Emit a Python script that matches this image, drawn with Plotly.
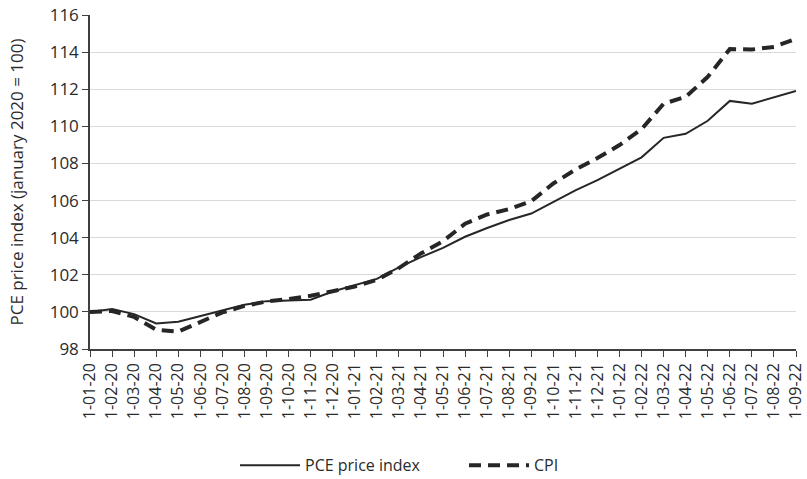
import plotly.graph_objects as go

months = ["1-01-20", "1-02-20", "1-03-20", "1-04-20", "1-05-20", "1-06-20", "1-07-20", "1-08-20",
          "1-09-20", "1-10-20", "1-11-20", "1-12-20", "1-01-21", "1-02-21", "1-03-21", "1-04-21",
          "1-05-21", "1-06-21", "1-07-21", "1-08-21", "1-09-21", "1-10-21", "1-11-21", "1-12-21",
          "1-01-22", "1-02-22", "1-03-22", "1-04-22", "1-05-22", "1-06-22", "1-07-22", "1-08-22",
          "1-09-22"]

pce = [100.0, 100.15, 99.88, 99.38, 99.47, 99.78, 100.1, 100.38, 100.58, 100.62, 100.66, 101.1,
       101.42, 101.78, 102.4, 102.95, 103.45, 104.05, 104.52, 104.95, 105.3, 105.92, 106.55, 107.1,
       107.7, 108.33, 109.38, 109.6, 110.3, 111.37, 111.22, 111.54, 111.9]

cpi = [100.0, 100.05, 99.73, 99.04, 98.94, 99.46, 99.97, 100.32, 100.56, 100.69, 100.87, 101.11,
       101.37, 101.73, 102.36, 103.15, 103.81, 104.75, 105.25, 105.54, 105.97, 106.92, 107.67, 108.29,
       108.99, 109.85, 111.22, 111.59, 112.67, 114.16, 114.14, 114.28, 114.72]

FONT = "Open Sans"
ink = "#262626"
txt = "#2b2b2b"

fig = go.Figure()
fig.add_trace(go.Scatter(x=months, y=pce, mode="lines", name="PCE price index",
                         line=dict(color=ink, width=2)))
fig.add_trace(go.Scatter(x=months, y=cpi, mode="lines", name="CPI",
                         line=dict(color=ink, width=4, dash="12px,7px")))

fig.update_layout(
    width=807, height=479,
    margin=dict(l=90, r=11, t=15, b=130, autoexpand=False),
    paper_bgcolor="white", plot_bgcolor="white",
    font=dict(family=FONT, size=17, color=txt),
    showlegend=True,
    legend=dict(orientation="h", x=0.2054, xanchor="left",
                y=-0.348, yanchor="middle",
                font=dict(family=FONT, size=16, color=txt), itemwidth=60,
                entrywidth=154, entrywidthmode="pixels",
                traceorder="normal"),
    xaxis=dict(type="category", range=[0, 32], tickangle=-90, automargin=False,
               showgrid=False, showline=True, linecolor="#404040", linewidth=1.5,
               ticks="outside", ticklen=6, tickcolor="#404040",
               tickfont=dict(family=FONT, size=16, color=txt),
               zeroline=False),
    yaxis=dict(range=[98, 116], dtick=2, tick0=98, automargin=False,
               showgrid=True, gridcolor="#d9d9d9", gridwidth=1,
               showline=True, linecolor="#404040", linewidth=1.5,
               ticks="outside", ticklen=6, tickcolor="#404040",
               tickfont=dict(family=FONT, size=17, color=txt),
               title=dict(text="PCE price index (january 2020 = 100)",
                          font=dict(family=FONT, size=17, color=txt), standoff=22),
               zeroline=False),
)

fig.write_html("out.html", config={"displayModeBar": False},
               post_script="document.body.style.margin='0';document.body.style.overflow='hidden';")
